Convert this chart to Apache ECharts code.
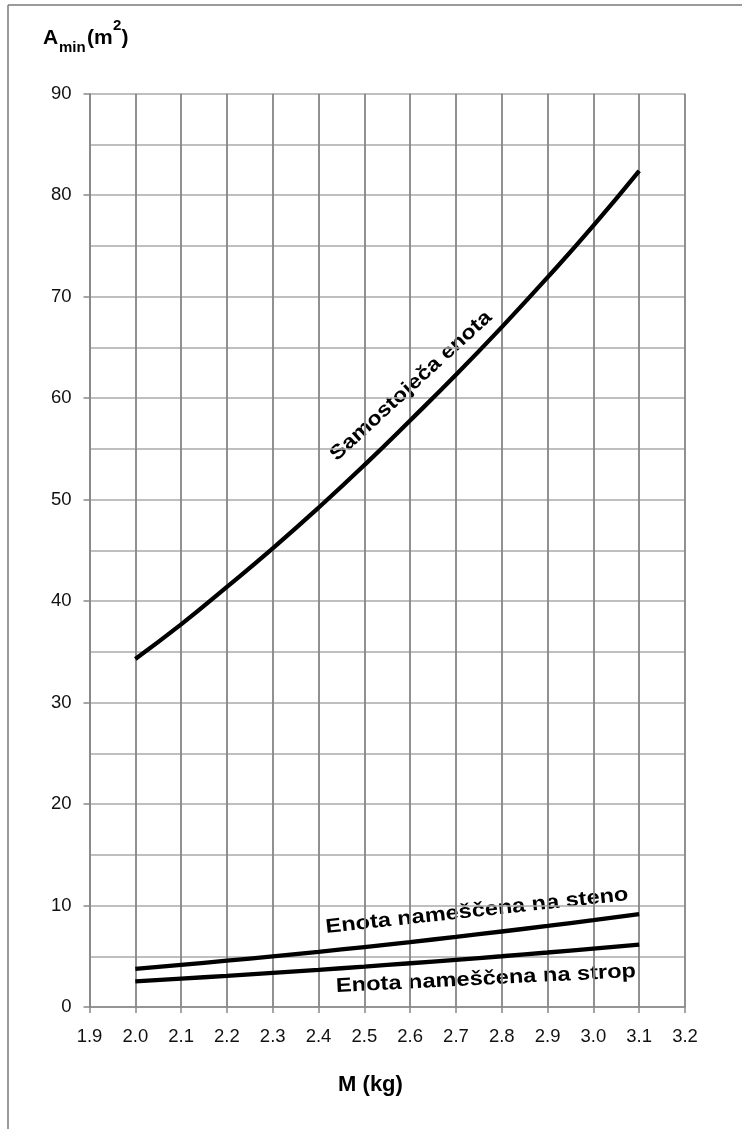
<!DOCTYPE html>
<html>
<head>
<meta charset="utf-8">
<script src="https://cdn.jsdelivr.net/npm/echarts@6/dist/echarts.min.js"></script>
<style>
html,body{margin:0;padding:0;background:#fff;}
#c{width:742px;height:1129px;}
</style>
</head>
<body>
<div id="c"></div>
<script>
var massKg = [2.0, 2.1, 2.2, 2.3, 2.4, 2.5, 2.6, 2.7, 2.8, 2.9, 3.0, 3.1];
var freeStanding = [34.3, 37.7, 41.4, 45.2, 49.2, 53.4, 57.8, 62.3, 67.0, 71.9, 77.0, 82.4];
var wallMounted = [3.75, 4.15, 4.56, 4.99, 5.44, 5.91, 6.40, 6.91, 7.44, 7.99, 8.56, 9.15];
var ceilingMounted = [2.53, 2.80, 3.07, 3.36, 3.66, 3.98, 4.31, 4.65, 5.00, 5.37, 5.76, 6.15];
var seriesNames = ['Samostoječa enota', 'Enota nameščena na steno', 'Enota nameščena na strop'];
var yTitleParts = ['A', 'min', '(m', '2', ')'];
var xTitle = 'M (kg)';

function pairs(xs, ys){ return xs.map(function(x,i){ return [x, ys[i]]; }); }

var chart = echarts.init(document.getElementById('c'));
var font = '"Liberation Sans", Arial, sans-serif';
var lineStyleCurve = {color:'#000', width:4.3};

function t(text, x, y, fs, opts){
  var o = {type:'text', x:x, y:y, style:{text:text, fontSize:fs, fontWeight:'bold', fontFamily:font, fill:'#000', align:'left', verticalAlign:'middle'}};
  if (opts) { for (var k in opts) { if (k === 'align') o.style.align = opts[k]; else o[k] = opts[k]; } }
  return o;
}

chart.setOption({
  backgroundColor:'#fff',
  animation:false,
  grid:{left:89.5, right:57, top:93.7, bottom:122},
  xAxis:{
    type:'value', min:1.9, max:3.2, interval:0.1,
    axisLine:{show:true, lineStyle:{color:'#888', width:1.5}},
    axisTick:{show:true, length:6, lineStyle:{color:'#888', width:1.5}},
    axisLabel:{color:'#111', fontSize:18.5, fontFamily:font, margin:20,
      formatter:function(v){ return v.toFixed(1); }},
    splitLine:{show:true, lineStyle:{color:'#858585', width:1.8}}
  },
  yAxis:{
    type:'value', min:0, max:90, interval:10,
    axisLine:{show:true, lineStyle:{color:'#888', width:1.5}},
    axisTick:{show:true, length:6, lineStyle:{color:'#888', width:1.5}},
    axisLabel:{color:'#111', fontSize:18.5, fontFamily:font, margin:18},
    splitLine:{show:true, lineStyle:{color:'#aaa', width:1.5}},
    minorTick:{show:false, splitNumber:2},
    minorSplitLine:{show:true, lineStyle:{color:'#aaa', width:1.5}}
  },
  series:[
    {name:seriesNames[0], type:'line', data:pairs(massKg, freeStanding), smooth:true, showSymbol:false, lineStyle:lineStyleCurve},
    {name:seriesNames[1], type:'line', data:pairs(massKg, wallMounted), smooth:true, showSymbol:false, lineStyle:lineStyleCurve},
    {name:seriesNames[2], type:'line', data:pairs(massKg, ceilingMounted), smooth:true, showSymbol:false, lineStyle:lineStyleCurve}
  ],
  graphic:[
    {type:'line', shape:{x1:8, y1:5, x2:742, y2:5}, style:{stroke:'#7a7a7a', lineWidth:1.5}},
    {type:'line', shape:{x1:8, y1:5, x2:8, y2:1129}, style:{stroke:'#7a7a7a', lineWidth:1.5}},
    t(yTitleParts[0], 43, 38.3, 21),
    t(yTitleParts[1], 59, 48.1, 15),
    t(yTitleParts[2], 87, 38.3, 21),
    t(yTitleParts[3], 113, 25.5, 15),
    t(yTitleParts[4], 121.5, 38.3, 21),
    t(xTitle, 370.5, 1085, 22, {align:'center'}),
    t(seriesNames[0], 411, 386, 20, {align:'center', rotation:42.5*Math.PI/180, scaleX:1.16}),
    t(seriesNames[1], 477, 911, 20, {align:'center', rotation:6.2*Math.PI/180, scaleX:1.18}),
    t(seriesNames[2], 486, 979, 20, {align:'center', rotation:2.9*Math.PI/180, scaleX:1.18})
  ]
});
</script>
</body>
</html>
